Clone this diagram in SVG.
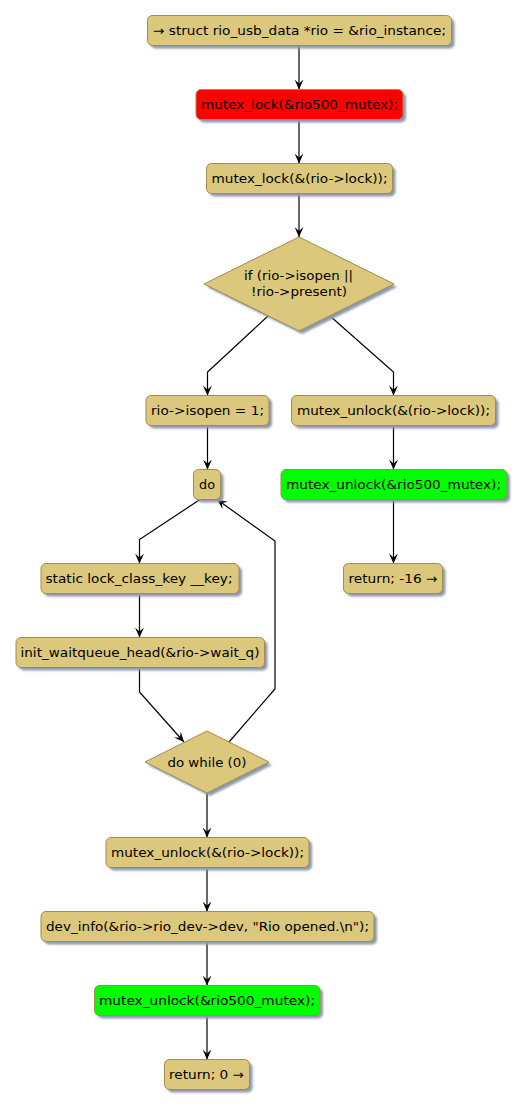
<svg xmlns="http://www.w3.org/2000/svg" width="525" height="1108" viewBox="0 0 525 1108">
<defs>
<filter id="sh" x="-20%" y="-20%" width="140%" height="160%">
<feGaussianBlur stdDeviation="1.2"/>
</filter>
<marker id="ah" viewBox="0 0 10 9" refX="10" refY="4.5" markerWidth="10" markerHeight="9" markerUnits="userSpaceOnUse" orient="auto">
<path d="M0,0 L10,4.5 L0,9 L4,4.5 Z" fill="#000"/>
</marker>
</defs>
<style>
.n{fill:#DCC87C;stroke:#A08C4C;stroke-width:1}
.r{fill:#FF0000;stroke:#A08C4C;stroke-width:1}
.g{fill:#00FF00;stroke:#A08C4C;stroke-width:1}
.s{fill:#8D98AD;filter:url(#sh)}
text{font-family:"DejaVu Sans",sans-serif;font-size:12.6px;fill:#000;text-anchor:middle}
.c path{fill:none;stroke:#000;stroke-width:1.2;marker-end:url(#ah)}
</style>
<rect width="525" height="1108" fill="#fff"/>
<g class="c" id="connectors">
<path d="M299,45 L299,89.5"/>
<path d="M299,119.5 L299,163.5"/>
<path d="M299,193.5 L299,237"/>
<path d="M268,316 L207.5,372 L207.5,395.5"/>
<path d="M330,316 L393.5,372 L393.5,395.5"/>
<path d="M207.5,425.5 L207.5,469.5"/>
<path d="M393.5,425.5 L393.5,469.5"/>
<path d="M393.5,499.5 L393.5,563.5"/>
<path d="M200,499.5 L139.5,539.5 L139.5,563.5"/>
<path d="M139.5,593.5 L139.5,637.5"/>
<path d="M139.5,667.5 L139.5,692 L184,742"/>
<path d="M229,742 L275,689 L275,541 L217,499.5"/>
<path d="M207,793 L207,837.5"/>
<path d="M207,867.5 L207,911.5"/>
<path d="M207,941.5 L207,985.5"/>
<path d="M207,1015.5 L207,1059.5"/>
</g>
<g id="n1">
<rect class="s" x="150.5" y="18.5" width="304" height="30" rx="5"/>
<rect class="n" x="147.5" y="15.5" width="304" height="30" rx="5"/>
<text x="299.5" y="35" textLength="293" lengthAdjust="spacingAndGlyphs">→ struct rio_usb_data *rio = &amp;rio_instance;</text>
</g>
<g id="n2">
<rect class="s" x="199" y="92.5" width="207" height="30" rx="5"/>
<rect class="r" x="196" y="89.5" width="207" height="30" rx="5"/>
<text x="299.5" y="109" textLength="197" lengthAdjust="spacingAndGlyphs">mutex_lock(&amp;rio500_mutex);</text>
</g>
<g id="n3">
<rect class="s" x="209.5" y="166.5" width="186" height="30" rx="5"/>
<rect class="n" x="206.5" y="163.5" width="186" height="30" rx="5"/>
<text x="299.5" y="183" textLength="176" lengthAdjust="spacingAndGlyphs">mutex_lock(&amp;(rio-&gt;lock));</text>
</g>
<g id="d1">
<polygon class="s" points="302,240 397,287 302,334 207,287"/>
<polygon class="n" points="299,237 394,284 299,331 204,284"/>
<text x="298.5" y="280" textLength="109" lengthAdjust="spacingAndGlyphs">if (rio-&gt;isopen ||</text>
<text x="299" y="296" textLength="96" lengthAdjust="spacingAndGlyphs">!rio-&gt;present)</text>
</g>
<g id="n4">
<rect class="s" x="149" y="398.5" width="123" height="30" rx="5"/>
<rect class="n" x="146" y="395.5" width="123" height="30" rx="5"/>
<text x="207.5" y="415" textLength="113" lengthAdjust="spacingAndGlyphs">rio-&gt;isopen = 1;</text>
</g>
<g id="n5">
<rect class="s" x="294.5" y="398.5" width="204" height="30" rx="5"/>
<rect class="n" x="291.5" y="395.5" width="204" height="30" rx="5"/>
<text x="393.5" y="415" textLength="193" lengthAdjust="spacingAndGlyphs">mutex_unlock(&amp;(rio-&gt;lock));</text>
</g>
<g id="n6">
<rect class="s" x="196.5" y="472.5" width="27" height="30" rx="5"/>
<rect class="n" x="193.5" y="469.5" width="27" height="30" rx="5"/>
<text x="207" y="489" textLength="16" lengthAdjust="spacingAndGlyphs">do</text>
</g>
<g id="n7">
<rect class="s" x="284" y="472.5" width="226" height="30" rx="5"/>
<rect class="g" x="281" y="469.5" width="226" height="30" rx="5"/>
<text x="393.5" y="489" textLength="215" lengthAdjust="spacingAndGlyphs">mutex_unlock(&amp;rio500_mutex);</text>
</g>
<g id="n8">
<rect class="s" x="346.5" y="566.5" width="99" height="30" rx="5"/>
<rect class="n" x="343.5" y="563.5" width="99" height="30" rx="5"/>
<text x="393" y="583" textLength="89" lengthAdjust="spacingAndGlyphs">return; -16 →</text>
</g>
<g id="n9">
<rect class="s" x="44" y="566.5" width="198" height="30" rx="5"/>
<rect class="n" x="41" y="563.5" width="198" height="30" rx="5"/>
<text x="139" y="583" textLength="187" lengthAdjust="spacingAndGlyphs">static lock_class_key __key;</text>
</g>
<g id="n10">
<rect class="s" x="19" y="640.5" width="248.5" height="30" rx="5"/>
<rect class="n" x="16" y="637.5" width="248.5" height="30" rx="5"/>
<text x="140" y="657" textLength="239" lengthAdjust="spacingAndGlyphs">init_waitqueue_head(&amp;rio-&gt;wait_q)</text>
</g>
<g id="d2">
<polygon class="s" points="210,734 272,765 210,796 148,765"/>
<polygon class="n" points="207,731 269,762 207,793 145,762"/>
<text x="207" y="767" textLength="79" lengthAdjust="spacingAndGlyphs">do while (0)</text>
</g>
<g id="n11">
<rect class="s" x="109" y="840.5" width="203" height="30" rx="5"/>
<rect class="n" x="106" y="837.5" width="203" height="30" rx="5"/>
<text x="207.5" y="857" textLength="193" lengthAdjust="spacingAndGlyphs">mutex_unlock(&amp;(rio-&gt;lock));</text>
</g>
<g id="n12">
<rect class="s" x="44" y="914.5" width="333" height="30" rx="5"/>
<rect class="n" x="41" y="911.5" width="333" height="30" rx="5"/>
<text x="207.5" y="931" textLength="323" lengthAdjust="spacingAndGlyphs">dev_info(&amp;rio-&gt;rio_dev-&gt;dev, "Rio opened.\n");</text>
</g>
<g id="n13">
<rect class="s" x="97.5" y="988.5" width="225.5" height="30" rx="5"/>
<rect class="g" x="94.5" y="985.5" width="225.5" height="30" rx="5"/>
<text x="207" y="1005" textLength="216" lengthAdjust="spacingAndGlyphs">mutex_unlock(&amp;rio500_mutex);</text>
</g>
<g id="n14">
<rect class="s" x="167.5" y="1062.5" width="85" height="30" rx="5"/>
<rect class="n" x="164.5" y="1059.5" width="85" height="30" rx="5"/>
<text x="206.5" y="1079" textLength="75" lengthAdjust="spacingAndGlyphs">return; 0 →</text>
</g>
</svg>
